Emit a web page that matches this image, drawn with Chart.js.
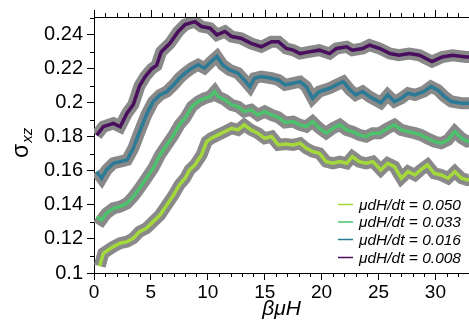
<!DOCTYPE html>
<html>
<head>
<meta charset="utf-8">
<script src="https://cdn.jsdelivr.net/npm/chart.js@4/dist/chart.umd.min.js"></script>
<style>
  html, body { margin: 0; padding: 0; background: #fff; }
  canvas { display: block; }
</style>
</head>
<body>
<canvas id="sigmaChart" width="469" height="322"></canvas>
<script>
// values
const labels = ['μdH/dt = 0.050', 'μdH/dt = 0.033', 'μdH/dt = 0.016', 'μdH/dt = 0.008'];
const colors = ['#a3d93a', '#4cc26c', '#2b7a96', '#4a0e5e'];

const x050 = [0.5, 0.82, 1.25, 1.7, 2.3, 2.9, 3.45, 4.0, 4.6, 5.2, 5.8, 6.4, 7.0, 7.5, 8.0, 8.4, 8.86, 9.45, 9.9, 10.3, 10.9, 11.5, 12.1, 12.65, 13.2, 13.8, 14.4, 15.0, 15.6, 16.2, 16.8, 17.5, 18.1, 18.65, 19.2, 19.8, 20.4, 21.0, 21.6, 22.2, 22.7, 23.3, 23.9, 24.5, 25.2, 25.8, 26.4, 27.0, 27.6, 28.2, 28.7, 29.3, 29.9, 30.5, 31.1, 31.7, 32.3, 32.8, 33.0];
const y050 = [0.104, 0.1116, 0.1135, 0.1155, 0.1175, 0.1184, 0.1204, 0.1243, 0.1263, 0.1302, 0.1341, 0.140, 0.1459, 0.1518, 0.1557, 0.1606, 0.1635, 0.1694, 0.1773, 0.1792, 0.1812, 0.1831, 0.1851, 0.1841, 0.1871, 0.1841, 0.1822, 0.1792, 0.1802, 0.1753, 0.1758, 0.1753, 0.1763, 0.1733, 0.1714, 0.1704, 0.1655, 0.1645, 0.1655, 0.1645, 0.1684, 0.1655, 0.1645, 0.1655, 0.1606, 0.1645, 0.1625, 0.1557, 0.1596, 0.1576, 0.1606, 0.1635, 0.1586, 0.1576, 0.1557, 0.1596, 0.1557, 0.1547, 0.155];

const x033 = [0.23, 0.67, 1.1, 1.7, 2.3, 2.9, 3.45, 4.0, 4.6, 5.2, 5.8, 6.4, 7.0, 7.5, 8.0, 8.6, 9.15, 9.7, 10.2, 10.6, 10.9, 11.5, 12.1, 12.65, 13.2, 13.8, 14.4, 15.0, 15.6, 16.2, 16.8, 17.5, 18.1, 18.65, 19.2, 19.8, 20.4, 21.0, 21.6, 22.2, 22.7, 23.3, 23.9, 24.5, 25.1, 25.8, 26.4, 27.0, 27.6, 28.2, 28.7, 29.3, 29.9, 30.5, 31.1, 31.7, 32.3, 32.8, 33.0];
const y033 = [0.1331, 0.1312, 0.1351, 0.138, 0.139, 0.141, 0.1449, 0.1498, 0.1557, 0.1616, 0.1694, 0.1753, 0.1812, 0.1871, 0.191, 0.1978, 0.2008, 0.2027, 0.2037, 0.2067, 0.2037, 0.2018, 0.1988, 0.1978, 0.1949, 0.1959, 0.1929, 0.1949, 0.1929, 0.1915, 0.1885, 0.189, 0.1871, 0.1861, 0.189, 0.1851, 0.1822, 0.1851, 0.1871, 0.1841, 0.1831, 0.1812, 0.1802, 0.1822, 0.1822, 0.1851, 0.1871, 0.1841, 0.1831, 0.1822, 0.1812, 0.1792, 0.1773, 0.1763, 0.1782, 0.1831, 0.1792, 0.1773, 0.1775];

const x016 = [0.23, 0.67, 1.1, 1.7, 2.3, 2.9, 3.45, 4.0, 4.6, 5.2, 5.8, 6.4, 7.0, 7.5, 8.0, 8.6, 9.15, 9.7, 10.3, 10.8, 11.3, 11.9, 12.65, 13.2, 13.7, 14.1, 14.7, 15.6, 16.2, 16.8, 17.5, 18.1, 18.65, 19.2, 19.8, 20.7, 21.3, 21.9, 22.5, 23.0, 23.6, 24.2, 25.2, 25.8, 26.4, 27.0, 27.6, 28.2, 29.0, 29.6, 30.2, 30.8, 31.4, 32.3, 33.0];
const y016 = [0.1596, 0.1557, 0.1606, 0.1645, 0.1655, 0.1665, 0.1733, 0.183, 0.193, 0.2008, 0.2047, 0.2067, 0.2106, 0.2145, 0.2175, 0.2204, 0.2224, 0.2204, 0.2243, 0.2273, 0.2224, 0.2194, 0.2175, 0.2135, 0.2096, 0.2145, 0.2155, 0.2145, 0.2135, 0.2106, 0.2116, 0.2125, 0.2096, 0.2027, 0.2067, 0.2086, 0.2106, 0.2125, 0.2076, 0.2047, 0.2067, 0.2037, 0.200, 0.2047, 0.2008, 0.2027, 0.2057, 0.2047, 0.2067, 0.2096, 0.2076, 0.2037, 0.2008, 0.1998, 0.1998];

const x008 = [0.23, 0.82, 1.7, 2.3, 2.9, 3.45, 4.0, 4.5, 5.06, 5.5, 5.9, 6.67, 7.4, 8.0, 8.86, 9.45, 10.2, 10.8, 11.5, 12.1, 12.9, 13.8, 14.7, 15.6, 16.2, 16.9, 17.5, 18.1, 18.9, 19.8, 20.7, 21.3, 22.2, 22.7, 23.6, 24.2, 25.1, 26.0, 26.8, 27.7, 28.6, 29.7, 30.6, 31.5, 32.7, 33.0];
const y008 = [0.181, 0.186, 0.188, 0.186, 0.194, 0.199, 0.210, 0.2155, 0.220, 0.222, 0.230, 0.235, 0.242, 0.246, 0.2478, 0.2449, 0.2439, 0.240, 0.242, 0.239, 0.238, 0.235, 0.233, 0.236, 0.236, 0.232, 0.231, 0.229, 0.230, 0.231, 0.229, 0.232, 0.233, 0.231, 0.232, 0.234, 0.232, 0.229, 0.228, 0.229, 0.228, 0.2243, 0.227, 0.228, 0.227, 0.227];

const xTicks = [0, 5, 10, 15, 20, 25, 30];
const yTicks = [0.1, 0.12, 0.14, 0.16, 0.18, 0.2, 0.22, 0.24];

const series = [[x050, y050], [x033, y033], [x016, y016], [x008, y008]];
const points = (xs, ys) => xs.map((x, i) => ({ x: x, y: ys[i] }));

// gray band under each coloured line (lower order is drawn on top)
const datasets = [];
series.forEach((s, k) => {
  datasets.push({ label: labels[k], data: points(s[0], s[1]), borderColor: colors[k], borderWidth: 3.5, pointRadius: 0, tension: 0, order: 0 });
});
series.forEach((s, k) => {
  datasets.push({ label: 'band', data: points(s[0], s[1]), borderColor: '#898989', borderWidth: 12, pointRadius: 0, tension: 0, order: 1 });
});

const FONT = '"Liberation Sans", Arial, Helvetica, sans-serif';

const extras = {
  id: 'extras',
  afterDraw(chart) {
    const ctx = chart.ctx;
    const xs = chart.scales.x, ys = chart.scales.y;
    const a = chart.chartArea;
    ctx.save();
    ctx.strokeStyle = '#000';
    ctx.lineWidth = 1;
    ctx.beginPath();
    // top frame line
    ctx.moveTo(a.left, a.top + 0.5);
    ctx.lineTo(a.right, a.top + 0.5);
    for (let v = 0; v <= 33; v++) {
      const px = Math.round(xs.getPixelForValue(v)) + 0.5;
      const major = v % 5 === 0;
      if (!major) {
        ctx.moveTo(px, a.bottom);
        ctx.lineTo(px, a.bottom + 4);
      }
      ctx.moveTo(px, a.top);
      ctx.lineTo(px, a.top - (major ? 7 : 4));
    }
    for (let i = 0; i < yTicks.length; i++) {
      const py = Math.round(ys.getPixelForValue(yTicks[i] + 0.01)) + 0.5;
      ctx.moveTo(a.left, py);
      ctx.lineTo(a.left - 4, py);
    }
    ctx.stroke();

    // axis titles
    ctx.fillStyle = '#000';
    ctx.textBaseline = 'alphabetic';
    ctx.textAlign = 'center';
    ctx.font = 'italic 21px ' + FONT;
    ctx.fillText('βμH', (a.left + a.right) / 2, 315);

    ctx.translate(28, 158);
    ctx.rotate(-Math.PI / 2);
    ctx.textAlign = 'left';
    ctx.font = '23px ' + FONT;
    ctx.fillText('σ', 0, 0);
    const w = ctx.measureText('σ').width;
    ctx.font = 'italic 15px ' + FONT;
    ctx.fillText('xz', w + 1, 4);
    ctx.restore();

    // legend
    ctx.save();
    ctx.font = 'italic 15.5px ' + FONT;
    ctx.textBaseline = 'middle';
    ctx.fillStyle = '#000';
    const rows = [204.5, 222, 239.5, 257.5];
    for (let k = 0; k < labels.length; k++) {
      ctx.strokeStyle = colors[k];
      ctx.lineWidth = 1.5;
      ctx.beginPath();
      ctx.moveTo(338, rows[k]);
      ctx.lineTo(353, rows[k]);
      ctx.stroke();
      ctx.fillText(labels[k], 359, rows[k] + 1);
    }
    ctx.restore();
  }
};

new Chart(document.getElementById('sigmaChart').getContext('2d'), {
  type: 'line',
  data: { datasets: datasets },
  plugins: [extras],
  options: {
    responsive: false,
    animation: false,
    devicePixelRatio: 1,
    layout: { padding: { top: 17, right: 0, left: 0, bottom: 0 } },
    plugins: {
      legend: { display: false },
      tooltip: { enabled: false }
    },
    scales: {
      x: {
        type: 'linear',
        min: 0,
        max: 32.95,
        afterFit: (s) => { s.height = 49; },
        afterBuildTicks: (s) => { s.ticks = xTicks.map(v => ({ value: v })); },
        ticks: {
          includeBounds: false,
          padding: 1,
          color: '#000',
          maxRotation: 0,
          font: { family: FONT, size: 19 },
          callback: (v) => String(v)
        },
        grid: { drawOnChartArea: false, tickLength: 7, color: '#000' },
        border: { color: '#000', width: 1 }
      },
      y: {
        min: 0.1,
        max: 0.2505,
        afterFit: (s) => { s.width = 94; },
        afterBuildTicks: (s) => { s.ticks = yTicks.map(v => ({ value: v })); },
        ticks: {
          includeBounds: false,
          padding: 4,
          color: '#000',
          font: { family: FONT, size: 20 },
          callback: (v) => String(+v.toFixed(2))
        },
        grid: { drawOnChartArea: false, tickLength: 7, color: '#000' },
        border: { color: '#000', width: 1 }
      }
    }
  }
});
</script>
</body>
</html>
